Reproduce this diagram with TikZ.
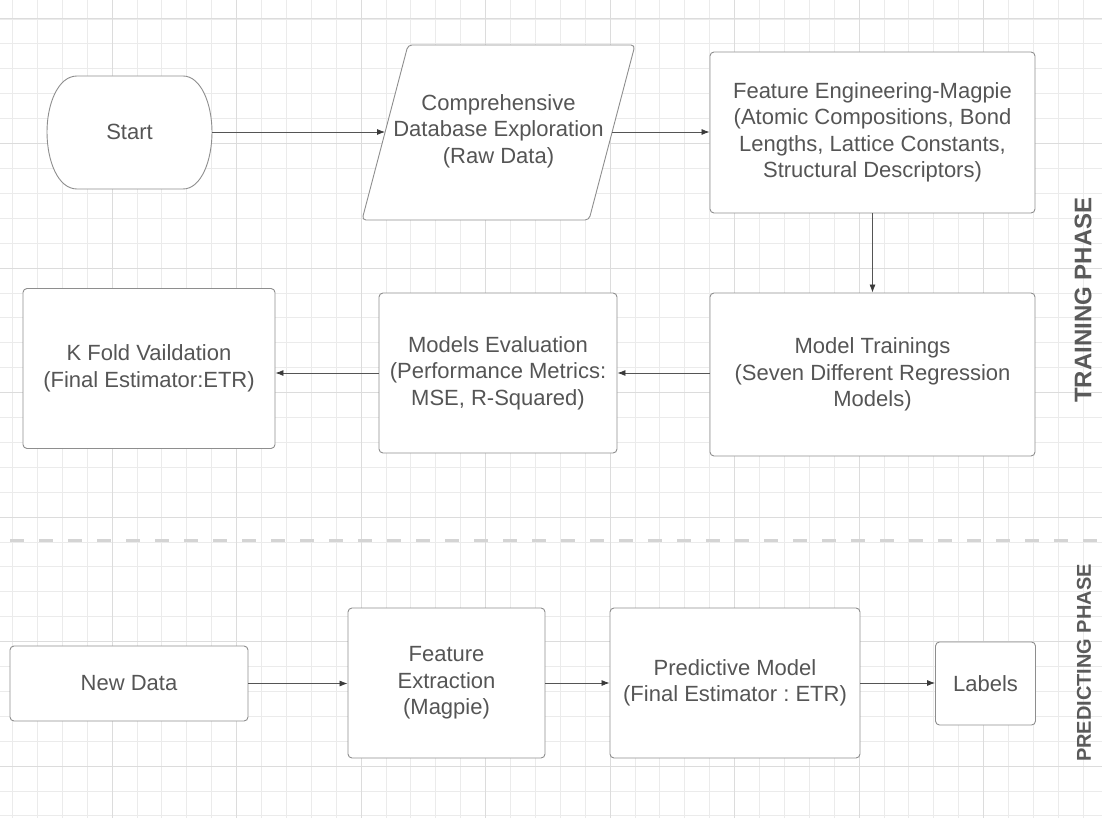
\documentclass[tikz,border=0pt]{standalone}
\usepackage{fontspec}
\setmainfont{Liberation Sans}
\usetikzlibrary{arrows.meta}
\frenchspacing
\definecolor{gridminor}{HTML}{EBEBEB}
\definecolor{gridmajor}{HTML}{DCDCDC}
\definecolor{boxline}{HTML}{8E8E8E}
\definecolor{boxtext}{HTML}{555555}
\definecolor{phasetext}{HTML}{5A5A5A}
\definecolor{arrowline}{HTML}{555555}
\definecolor{arrowtip}{HTML}{3A3A3A}
\definecolor{dashline}{HTML}{D4D4D4}

\begin{document}
\begin{tikzpicture}[x=1pt, y=-1pt,
    stepbox/.style={draw=boxline, fill=white, rounded corners=4pt, line width=0.9pt, text=boxtext, align=center, inner sep=0pt, font=\fontsize{22}{26.5}\selectfont},
    flow/.style={draw=arrowline, line width=0.8pt, -{Latex[length=8pt,width=6pt,color=arrowtip]}},
    phase/.style={rotate=90, text=phasetext}]
    \useasboundingbox[fill=white] (0,0) rectangle (1102,818);

    % Draw Grid
    \foreach \k in {0,...,43} \draw[gridminor, line width=0.8pt] ({12.4+24.9*\k},0) -- ({12.4+24.9*\k},818);
    \foreach \k in {0,...,32} \draw[gridminor, line width=0.8pt] (0,{19+24.9*\k}) -- (1102,{19+24.9*\k});
    \foreach \k in {4,9,...,39} \draw[gridmajor, line width=1pt] ({12.4+24.9*\k},0) -- ({12.4+24.9*\k},818);
    \foreach \k in {0,5,...,30} \draw[gridmajor, line width=1pt] (0,{19+24.9*\k}) -- (1102,{19+24.9*\k});

    % Phase Separator
    \draw[dashline, line width=3pt, dash pattern=on 14pt off 15pt] (10,540) -- (1102,540);

    % Training Phase
    \draw[draw=boxline, fill=white, line width=0.9pt] (77,76) -- (183,76) .. controls (201,76) and (212,104) .. (212,132) .. controls (212,161) and (201,189) .. (183,189) -- (77,189) .. controls (58,189) and (47,161) .. (47,132) .. controls (47,104) and (58,76) .. (77,76) -- cycle;
    \node[text=boxtext, font=\fontsize{22}{26.5}\selectfont, minimum width=165pt, minimum height=113pt, inner sep=0pt] (start) at (129.5,132) {Start};

    \draw[draw=boxline, fill=white, line width=0.9pt, rounded corners=4pt] (408,45) -- (635,45) -- (589,220) -- (362,220) -- cycle;
    \node[text=boxtext, align=center, font=\fontsize{22}{26.5}\selectfont] (dbexp) at (498.5,131) {Comprehensive\\Database Exploration\\(Raw Data)};
    \coordinate (dbW) at (385,132);
    \coordinate (dbE) at (612,132);

    \node[stepbox, minimum width=325pt, minimum height=161pt] (feateng) at (872.5,132.5) {Feature Engineering-Magpie\\(Atomic Compositions, Bond\\Lengths, Lattice Constants,\\Structural Descriptors)};
    \node[stepbox, minimum width=325pt, minimum height=163pt] (mtrain) at (872.5,374.5) {Model Trainings\\(Seven Different Regression\\Models)};
    \node[stepbox, minimum width=238pt, minimum height=160pt] (meval) at (498,373) {Models Evaluation\\(Performance Metrics:\\MSE, R-Squared)};
    \node[stepbox, minimum width=252pt, minimum height=160pt] (kfold) at (149,368.5) {K Fold Vaildation\\(Final Estimator:ETR)};

    \draw[flow] (start.east) -- (dbW);
    \draw[flow] (dbE) -- (feateng.west |- dbE);
    \draw[flow] (feateng.south) -- (mtrain.north);
    \draw[flow] (mtrain.west |- meval.east) -- (meval.east);
    \draw[flow] (meval.west) -- (kfold.east |- meval.west);

    % Predicting Phase
    \node[stepbox, minimum width=238pt, minimum height=75pt] (newdata) at (129,683.5) {New Data};
    \node[stepbox, minimum width=197pt, minimum height=150pt] (featext) at (446.5,683) {Feature\\Extraction\\(Magpie)};
    \node[stepbox, minimum width=250pt, minimum height=150pt] (predmodel) at (735,683) {Predictive Model\\(Final Estimator : ETR)};
    \node[stepbox, minimum width=100pt, minimum height=83pt] (labels) at (985.5,683.5) {Labels};

    \draw[flow] (newdata.east) -- (featext.west |- newdata.east);
    \draw[flow] (featext.east) -- (predmodel.west);
    \draw[flow] (predmodel.east) -- (labels.west |- predmodel.east);

    % Phase Labels
    \node[phase, font=\bfseries\fontsize{24}{24}\selectfont] (trainphase) at (1083,300) {TRAINING PHASE};
    \node[phase, font=\bfseries\fontsize{20}{20}\selectfont] (predphase) at (1084,663) {PREDICTING PHASE};
\end{tikzpicture}
\end{document}
